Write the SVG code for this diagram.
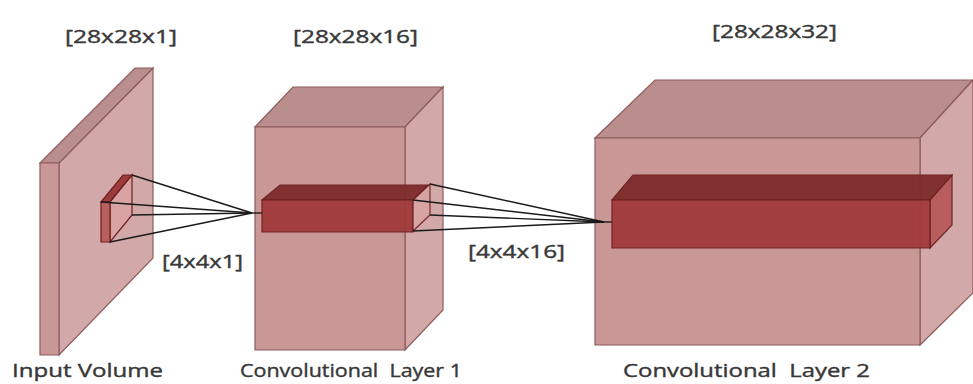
<svg xmlns="http://www.w3.org/2000/svg" width="973" height="384" viewBox="0 0 973 384">
<style>
.front{fill:#c99796;stroke:#8e5c5c;stroke-width:1.2}
.top{fill:#b98e8c;stroke:#8e5c5c;stroke-width:1.2}
.side{fill:#d3a8a8;stroke:#8e5c5c;stroke-width:1.2}
.bfront{fill:#a23a3a;stroke:#6e1f1f;stroke-width:1.2}
.btop{fill:#7e2b2b;stroke:#6e1f1f;stroke-width:1.2}
.bside{fill:#b65a5a;stroke:#6e1f1f;stroke-width:1.2}
.kside{fill:#d9a3a3;stroke:#6e1f1f;stroke-width:1.2}
.kfront{fill:#b8605f;stroke:#6e1f1f;stroke-width:1.2}
.ktop{fill:#9c3b3b;stroke:#6e1f1f;stroke-width:1.2}
.lbl{font-family:"Open Sans","Liberation Sans",sans-serif;font-size:19px;fill:#383838;stroke:#383838;stroke-width:0.4}
.conn line{stroke:#1a1a1a;stroke-width:1.4}
</style>
<rect width="973" height="384" fill="#ffffff"/>

<g id="input-volume">
  <polygon class="side" points="59,163 153,68 153,258 59,355"/>
  <polygon class="top" points="40,163 135,68 153,68 59,163"/>
  <polygon class="front" points="40,163 59,163 59,355 40,355"/>
  <g id="kernel-1">
    <polygon class="ktop" points="101,202 123,175 132,175 110,202"/>
    <polygon class="kside" points="110,202 132,175 132,215 110,242"/>
    <polygon class="kfront" points="101,202 110,202 110,242 101,242"/>
  </g>
</g>

<g id="conv-layer-1">
  <polygon class="top" points="255,127 293,87 443,87 405,127"/>
  <polygon class="side" points="405,127 443,87 443,310 405,350"/>
  <polygon class="front" points="255,127 405,127 405,350 255,350"/>
  <g id="bar-1">
    <polygon class="btop" points="262,200 280,185 428,185 413,200" opacity="0.95"/>
    <polygon class="bfront" points="262,200 413,200 413,232 262,232" opacity="0.95"/>
  </g>
  <g id="kernel-2">
    <polygon class="kside" points="413,200 430,184 430,215 413,231" opacity="0.9"/>
  </g>
</g>

<g id="conv-layer-2">
  <polygon class="top" points="595,138 655,80 973,80 920,138"/>
  <polygon class="side" points="920,138 973,80 973,293 920,345"/>
  <polygon class="front" points="595,138 920,138 920,345 595,345"/>
  <g id="bar-2">
    <polygon class="btop" points="612,200 633,175 952,175 930,200" opacity="0.95"/>
    <polygon class="bside" points="930,200 952,175 952,225 930,248" opacity="0.95"/>
    <polygon class="bfront" points="612,200 930,200 930,248 612,248" opacity="0.95"/>
  </g>
</g>

<g id="connectors" class="conn">
  <line x1="132" y1="175" x2="252" y2="213"/>
  <line x1="101" y1="202" x2="252" y2="213"/>
  <line x1="132" y1="215" x2="252" y2="213"/>
  <line x1="110" y1="242" x2="252" y2="213"/>
  <line x1="252" y1="213" x2="262" y2="213"/>
  <line x1="430" y1="184" x2="604" y2="222"/>
  <line x1="413" y1="200" x2="604" y2="222"/>
  <line x1="430" y1="215" x2="604" y2="222"/>
  <line x1="413" y1="231" x2="604" y2="222"/>
  <line x1="604" y1="222" x2="612" y2="222"/>
</g>

<g id="labels">
  <text class="lbl" x="65" y="43" textLength="112" lengthAdjust="spacingAndGlyphs">[28x28x1]</text>
  <text class="lbl" x="293" y="43" textLength="125" lengthAdjust="spacingAndGlyphs">[28x28x16]</text>
  <text class="lbl" x="712" y="38" textLength="125" lengthAdjust="spacingAndGlyphs">[28x28x32]</text>
  <text class="lbl" x="162" y="268" textLength="81" lengthAdjust="spacingAndGlyphs">[4x4x1]</text>
  <text class="lbl" x="468" y="258" textLength="97" lengthAdjust="spacingAndGlyphs">[4x4x16]</text>
  <text class="lbl" x="12" y="377" textLength="151" lengthAdjust="spacingAndGlyphs">Input Volume</text>
  <text class="lbl" x="240" y="377" textLength="222" lengthAdjust="spacingAndGlyphs" xml:space="preserve">Convolutional  Layer 1</text>
  <text class="lbl" x="623" y="377" textLength="247" lengthAdjust="spacingAndGlyphs" xml:space="preserve">Convolutional  Layer 2</text>
</g>
</svg>
